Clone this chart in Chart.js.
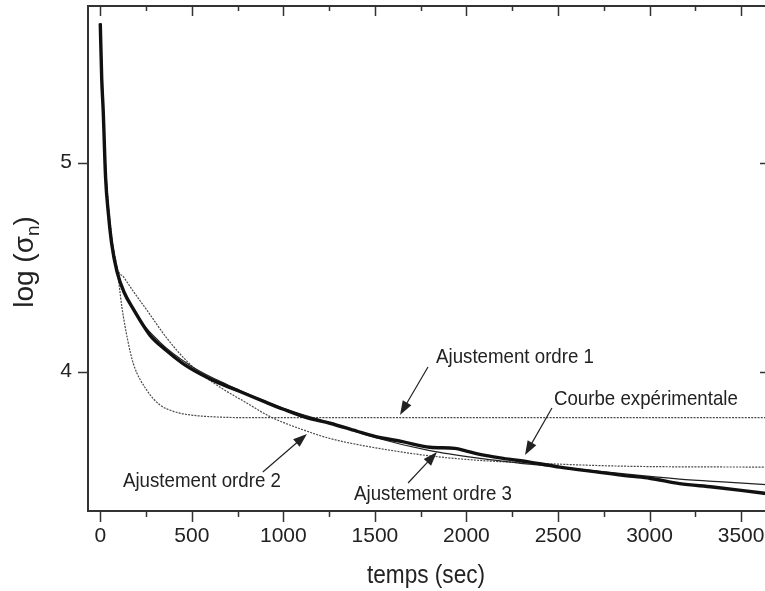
<!DOCTYPE html>
<html>
<head>
<meta charset="utf-8">
<script src="https://cdn.jsdelivr.net/npm/chart.js@4/dist/chart.umd.min.js"></script>
<style>
  html, body { margin: 0; padding: 0; overflow: hidden; background: #fff; }
  canvas { display: block; }
</style>
</head>
<body>
<canvas id="relaxChart" width="772" height="591"></canvas>
<script>
// axis ticks
const xTicks = [0, 500, 1000, 1500, 2000, 2500, 3000, 3500]
const xMinorTicks = [250, 750, 1250, 1750, 2250, 2750, 3250]
const yTicks = [4, 5]

// experimental curve (thick)
const tExp = [0, 8, 16, 29, 45, 62, 91, 130, 180, 271, 363, 450, 545, 650, 763, 900, 1000, 1127, 1255, 1400, 1500, 1650, 1800, 1937, 2000, 2073, 2200, 2346, 2510, 2710, 2891, 3000, 3164, 3345, 3500, 3658]
const logExp = [5.667, 5.40, 5.25, 4.93, 4.75, 4.615, 4.48, 4.38, 4.30, 4.175, 4.10, 4.04, 3.99, 3.945, 3.905, 3.855, 3.82, 3.78, 3.753, 3.715, 3.69, 3.665, 3.638, 3.633, 3.62, 3.604, 3.585, 3.567, 3.543, 3.52, 3.50, 3.49, 3.464, 3.448, 3.432, 3.414]

// fit order 1
const tFit1 = [0, 16, 29, 62, 91, 118, 150, 180, 255, 327, 400, 473, 636, 800, 3658]
const logFit1 = [5.667, 5.27, 4.98, 4.64, 4.50, 4.31, 4.15, 4.04, 3.91, 3.84, 3.81, 3.795, 3.783, 3.78, 3.78]

// fit order 2
const tFit2 = [0, 16, 29, 62, 91, 130, 180, 250, 364, 473, 550, 655, 800, 927, 1145, 1255, 1473, 1800, 2073, 2346, 2891, 3658]
const logFit2 = [5.667, 5.28, 4.99, 4.65, 4.50, 4.45, 4.385, 4.30, 4.16, 4.05, 3.99, 3.925, 3.85, 3.785, 3.71, 3.68, 3.64, 3.597, 3.575, 3.563, 3.547, 3.543]

// fit order 3
const tFit3 = [0, 16, 29, 62, 91, 180, 327, 500, 700, 1000, 1255, 1500, 1800, 2073, 2346, 2600, 2891, 3164, 3400, 3658]
const logFit3 = [5.667, 5.26, 4.95, 4.63, 4.49, 4.30, 4.14, 4.025, 3.935, 3.825, 3.755, 3.685, 3.622, 3.585, 3.557, 3.535, 3.508, 3.486, 3.472, 3.458]

// labels with arrows, in data units
const notes = [
  { text: "Ajustement ordre 1", at: [1834, 4.042], from: [1790, 4.022], to: [1637, 3.793] },
  { text: "Courbe expérimentale", at: [2478, 3.841], from: [2467, 3.826], to: [2320, 3.601] },
  { text: "Ajustement ordre 2", at: [124, 3.448], from: [888, 3.52], to: [1129, 3.702] },
  { text: "Ajustement ordre 3", at: [1386, 3.386], from: [1681, 3.467], to: [1839, 3.615] },
]

const FONT = "'Liberation Sans', Arial, Helvetica, sans-serif"
const INK = "#222"

const pairs = (xs, ys) => xs.map((x, i) => ({ x: x, y: ys[i] }))

function drawText(ctx, str, x, y, size, sx, align) {
  ctx.save()
  ctx.font = `${size}px ${FONT}`
  ctx.textBaseline = "alphabetic"
  ctx.textAlign = align || "left"
  ctx.translate(x, y)
  ctx.scale(sx, 1)
  ctx.fillText(str, 0, 0)
  ctx.restore()
}

function drawArrow(ctx, x1, y1, x2, y2) {
  const ang = Math.atan2(y2 - y1, x2 - x1)
  const len = 14, half = 5
  ctx.beginPath()
  ctx.moveTo(x1, y1)
  ctx.lineTo(x2 - Math.cos(ang) * (len - 2), y2 - Math.sin(ang) * (len - 2))
  ctx.stroke()
  ctx.beginPath()
  ctx.moveTo(x2, y2)
  ctx.lineTo(x2 - Math.cos(ang) * len - Math.sin(ang) * half, y2 - Math.sin(ang) * len + Math.cos(ang) * half)
  ctx.lineTo(x2 - Math.cos(ang) * len + Math.sin(ang) * half, y2 - Math.sin(ang) * len - Math.cos(ang) * half)
  ctx.closePath()
  ctx.fill()
}

const framePlugin = {
  id: "frame",
  afterDatasetsDraw(chart) {
    const { ctx, chartArea: a, scales } = chart
    const x = scales.x, y = scales.y
    ctx.save()
    ctx.strokeStyle = "#333"
    ctx.fillStyle = INK

    // top border
    ctx.lineWidth = 2
    ctx.beginPath()
    ctx.moveTo(a.left - 1, a.top)
    ctx.lineTo(a.right, a.top)
    ctx.stroke()

    // tick marks
    ctx.lineWidth = 1.5
    const seg = (x1, y1, x2, y2) => {
      ctx.beginPath(); ctx.moveTo(x1, y1); ctx.lineTo(x2, y2); ctx.stroke()
    }
    xTicks.forEach((v) => {
      const px = Math.round(x.getPixelForValue(v)) + 0.5
      seg(px, a.bottom, px, a.bottom + 11)
      seg(px, a.top, px, a.top + 10)
    })
    xMinorTicks.forEach((v) => {
      const px = Math.round(x.getPixelForValue(v)) + 0.5
      seg(px, a.bottom, px, a.bottom + 6)
      seg(px, a.top, px, a.top + 5)
    })
    yTicks.forEach((v) => {
      const py = Math.round(y.getPixelForValue(v)) + 0.5
      seg(a.left - 10, py, a.left, py)
      seg(a.right - 10, py, a.right, py)
    })

    // annotations
    ctx.lineWidth = 1.2
    ctx.strokeStyle = INK
    notes.forEach((n) => {
      drawArrow(ctx,
        x.getPixelForValue(n.from[0]), y.getPixelForValue(n.from[1]),
        x.getPixelForValue(n.to[0]), y.getPixelForValue(n.to[1]))
      drawText(ctx, n.text, x.getPixelForValue(n.at[0]), y.getPixelForValue(n.at[1]), 21, 0.89)
    })

    // x title
    drawText(ctx, "temps (sec)", (a.left + a.right) / 2 - 3, 583, 26, 0.87, "center")

    // y title with subscript
    ctx.save()
    ctx.translate(33, 262)
    ctx.rotate(-Math.PI / 2)
    ctx.textBaseline = "alphabetic"
    ctx.textAlign = "left"
    const big = `28px ${FONT}`, small = `19px ${FONT}`
    ctx.font = big
    const w1 = ctx.measureText("log (σ").width
    const w3 = ctx.measureText(")").width
    ctx.font = small
    const w2 = ctx.measureText("n").width
    let cx = -(w1 + w2 + w3) / 2
    ctx.font = big
    ctx.fillText("log (σ", cx, 0)
    cx += w1
    ctx.font = small
    ctx.fillText("n", cx, 6)
    cx += w2
    ctx.font = big
    ctx.fillText(")", cx, 0)
    ctx.restore()

    ctx.restore()
  },
}

const dotted = { borderColor: "#4a4a4a", borderWidth: 1.2, borderDash: [2, 1.2] }

new Chart(document.getElementById("relaxChart"), {
  type: "line",
  data: {
    datasets: [
      { label: "Courbe expérimentale", data: pairs(tExp, logExp), borderColor: "#111", borderWidth: 3.4 },
      { label: "Ajustement ordre 3", data: pairs(tFit3, logFit3), borderColor: "#222", borderWidth: 1.2 },
      Object.assign({ label: "Ajustement ordre 2", data: pairs(tFit2, logFit2) }, dotted),
      Object.assign({ label: "Ajustement ordre 1", data: pairs(tFit1, logFit1) }, dotted),
    ],
  },
  options: {
    responsive: false,
    animation: false,
    layout: { padding: { top: 6, right: 2, left: 0, bottom: 0 } },
    elements: {
      point: { radius: 0 },
      line: { cubicInterpolationMode: "monotone", fill: false },
    },
    plugins: { legend: { display: false }, tooltip: { enabled: false } },
    scales: {
      x: {
        type: "linear",
        min: -67,
        max: 3658,
        grid: { display: false, drawTicks: false },
        border: { display: true, color: "#333", width: 2 },
        ticks: { padding: 13, color: INK, font: { family: FONT, size: 21 }, callback: (v) => String(v) },
        afterBuildTicks: (s) => { s.ticks = xTicks.map((v) => ({ value: v })) },
        afterFit: (s) => { s.height = 80; s.paddingLeft = 0; s.paddingRight = 0 },
      },
      y: {
        type: "linear",
        min: 3.333,
        max: 5.75,
        grid: { display: false, drawTicks: false },
        border: { display: true, color: "#333", width: 2 },
        ticks: { padding: 16, color: INK, font: { family: FONT, size: 21 }, callback: (v) => String(v) },
        afterBuildTicks: (s) => { s.ticks = yTicks.map((v) => ({ value: v })) },
        afterFit: (s) => { s.width = 88; s.paddingTop = 0; s.paddingBottom = 0 },
      },
    },
  },
  plugins: [framePlugin],
})
</script>
</body>
</html>
